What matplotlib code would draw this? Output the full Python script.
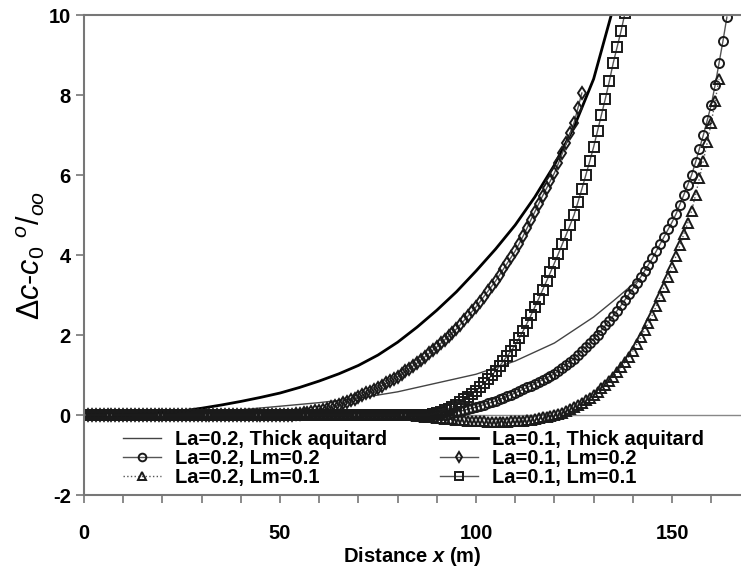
import matplotlib
matplotlib.use("Agg")
import matplotlib.pyplot as plt
from matplotlib.ticker import MultipleLocator

plt.rcParams['font.family'] = ['Liberation Sans', 'DejaVu Sans']
plt.rcParams['axes.unicode_minus'] = False
plt.rcParams['mathtext.fontset'] = 'custom'
plt.rcParams['mathtext.rm'] = 'Liberation Sans'
plt.rcParams['mathtext.it'] = 'Liberation Sans:italic'
plt.rcParams['mathtext.bf'] = 'Liberation Sans:italic:bold'

#----------------------------------------------------------------------------------------#
# data

# solid lines (no markers)
x_thick01 = [0, 10, 15, 20, 25, 30, 35, 40, 45, 50, 55, 60, 65, 70, 75, 80, 85, 90, 95,
             100, 105, 110, 115, 120, 125, 130, 134.5]
y_thick01 = [0.0, 0.0, 0.02, 0.05, 0.1, 0.17, 0.25, 0.34, 0.44, 0.55, 0.69, 0.85, 1.03,
             1.24, 1.5, 1.82, 2.2, 2.62, 3.08, 3.6, 4.15, 4.75, 5.45, 6.25, 7.2, 8.4, 10.0]

x_thick02 = [0, 10, 15, 20, 30, 40, 50, 60, 70, 80, 90, 100, 110, 120, 130, 135, 141]
y_thick02 = [0.0, 0.0, 0.0, 0.02, 0.06, 0.13, 0.22, 0.31, 0.42, 0.58, 0.8, 1.02, 1.35,
             1.8, 2.45, 2.85, 3.35]

# marker series, one point per metre starting at x = 0
y_la01_lm02 = [0.0] * 51 + [
    0.0, 0.01, 0.01, 0.02, 0.03, 0.04, 0.06, 0.07, 0.09, 0.1,
    0.13, 0.16, 0.19, 0.22, 0.25, 0.29, 0.33, 0.37, 0.41, 0.45,
    0.49, 0.54, 0.58, 0.63, 0.68, 0.73, 0.79, 0.84, 0.9, 0.95,
    1.02, 1.09, 1.16, 1.23, 1.3, 1.38, 1.46, 1.54, 1.62, 1.7,
    1.79, 1.88, 1.97, 2.06, 2.15, 2.26, 2.37, 2.48, 2.59, 2.7,
    2.83, 2.96, 3.09, 3.22, 3.35, 3.5, 3.65, 3.8, 3.95, 4.1,
    4.28, 4.47, 4.67, 4.88, 5.08, 5.28, 5.48, 5.67, 5.86, 6.05,
    6.29, 6.54, 6.79, 7.04, 7.3, 7.67, 8.05]

y_la01_lm01 = [0.0] * 89 + [
    0.02, 0.05, 0.08, 0.12, 0.16, 0.2, 0.25, 0.32, 0.39, 0.46, 0.53, 0.6,
    0.69, 0.79, 0.89, 0.99, 1.1, 1.22, 1.35, 1.48, 1.61, 1.75,
    1.92, 2.1, 2.29, 2.49, 2.7, 2.91, 3.13, 3.35, 3.57, 3.8,
    4.03, 4.27, 4.51, 4.75, 5.0, 5.32, 5.65, 5.99, 6.34, 6.7,
    7.1, 7.5, 7.91, 8.34, 8.8, 9.2, 9.6, 10.05]

y_la02_lm02 = [0.0] * 93 + [
    0.02, 0.05, 0.08, 0.1, 0.12, 0.15, 0.17, 0.2,
    0.23, 0.26, 0.29, 0.32, 0.35, 0.39, 0.43, 0.47, 0.51, 0.55,
    0.6, 0.64, 0.69, 0.73, 0.78, 0.83, 0.88, 0.93, 0.98, 1.03,
    1.1, 1.17, 1.25, 1.33, 1.41, 1.5, 1.6, 1.7, 1.8, 1.9,
    2.01, 2.12, 2.24, 2.36, 2.48, 2.61, 2.74, 2.88, 3.02, 3.16,
    3.3, 3.45, 3.6, 3.76, 3.92, 4.1, 4.28, 4.46, 4.64, 4.82,
    5.02, 5.26, 5.5, 5.75, 6.0, 6.32, 6.66, 7.0, 7.37, 7.75,
    8.25, 8.8, 9.35, 9.95]

y_la02_lm01 = [0.0] * 85 + [
    -0.02, -0.03, -0.04, -0.05, -0.06, -0.07, -0.08, -0.09, -0.1, -0.11,
    -0.12, -0.13, -0.13, -0.14, -0.15, -0.15, -0.16, -0.16, -0.17, -0.17,
    -0.17, -0.17, -0.17, -0.17, -0.16, -0.16, -0.15, -0.14, -0.13, -0.12,
    -0.1, -0.08, -0.06, -0.04, -0.02, 0.0, 0.03, 0.06, 0.1, 0.15,
    0.2, 0.25, 0.31, 0.37, 0.43, 0.5, 0.58, 0.67, 0.76, 0.85,
    0.95, 1.07, 1.2, 1.33, 1.46, 1.6, 1.77, 1.94, 2.12, 2.31,
    2.5, 2.73, 2.97, 3.21, 3.45, 3.7, 3.97, 4.24, 4.52, 4.8,
    5.1, 5.5, 5.92, 6.36, 6.82, 7.3, 7.85, 8.4]

#----------------------------------------------------------------------------------------#

fig = plt.figure(figsize=(7.41, 5.69), dpi=100)
ax = fig.add_axes([0.1134, 0.130, 0.8866, 0.8436])

line_col = '#555555'
edge_col = '#1a1a1a'
ms = 6.5
mew = 1.4

ax.axhline(0, color='#888888', lw=1.0, zorder=0)

h1, = ax.plot(x_thick02, y_thick02, color='#444444', lw=1.0,
              label='La=0.2, Thick aquitard')
h2, = ax.plot(range(len(y_la02_lm02)), y_la02_lm02, color=line_col, lw=1.0,
              marker='o', ms=ms, mfc='none', mec=edge_col, mew=mew,
              label='La=0.2, Lm=0.2')
h3, = ax.plot(range(len(y_la02_lm01)), y_la02_lm01, color=line_col, lw=1.0, ls=':',
              marker='^', ms=ms, mfc='none', mec=edge_col, mew=mew,
              label='La=0.2, Lm=0.1')
h4, = ax.plot(x_thick01, y_thick01, color='black', lw=2.0,
              label='La=0.1, Thick aquitard')
h5, = ax.plot(range(len(y_la01_lm02)), y_la01_lm02, color=line_col, lw=1.0,
              marker='d', ms=ms, mfc='none', mec=edge_col, mew=mew,
              label='La=0.1, Lm=0.2')
h6, = ax.plot(range(len(y_la01_lm01)), y_la01_lm01, color=line_col, lw=1.0,
              marker='s', ms=ms, mfc='none', mec=edge_col, mew=mew,
              label='La=0.1, Lm=0.1')

ax.set_xlim(0, 167.6)
ax.set_ylim(-2, 10)
ax.xaxis.set_major_locator(MultipleLocator(50))
ax.xaxis.set_minor_locator(MultipleLocator(10))
ax.yaxis.set_major_locator(MultipleLocator(2))

for s in ['left', 'bottom', 'top']:
    ax.spines[s].set_color('#777777')
    ax.spines[s].set_linewidth(1.5)
ax.spines['right'].set_visible(False)

ax.tick_params(axis='both', which='both', direction='out', length=6, width=1.2,
               color='#777777', labelsize=14.5)
ax.tick_params(axis='x', pad=15)
for lab in ax.get_xticklabels() + ax.get_yticklabels():
    lab.set_fontweight('bold')

ax.set_xlabel(r'Distance $\mathbf{x}$ (m)', fontsize=14.5, fontweight='bold', labelpad=1)
ax.set_ylabel(r'$\Delta c$-$c_0$ $^{o}/_{oo}$', fontsize=22, labelpad=1)

leg = ax.legend(handles=[h1, h2, h3, h4, h5, h6], ncol=2, loc='upper left',
                bbox_to_anchor=(0.038, 0.165), frameon=False,
                prop={'weight': 'bold', 'size': 14.5},
                handlelength=1.9, handletextpad=0.7, labelspacing=0.0,
                columnspacing=2.6, borderpad=0.2, markerscale=0.85)

plt.savefig("out.png", dpi=100)
